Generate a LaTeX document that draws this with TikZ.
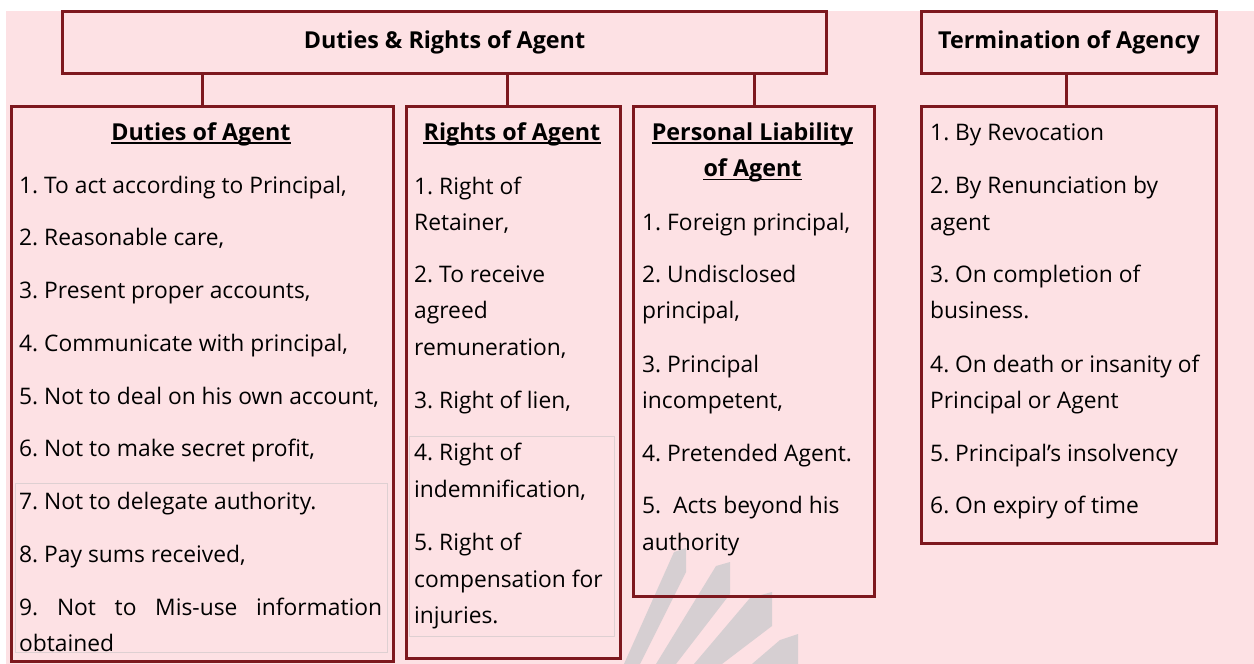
\documentclass[tikz,border=0pt]{standalone}
\usepackage{fontspec}
\setmainfont{Open Sans}
\frenchspacing
\definecolor{boxred}{RGB}{125,24,30}
\definecolor{bgpink}{RGB}{253,225,228}
\definecolor{logogray}{RGB}{214,207,210}
\definecolor{cellgray}{RGB}{222,208,210}

\begin{document}
\begin{tikzpicture}[x=1pt, y=-1pt,
	box/.style={draw=boxred, line width=3pt, inner sep=0pt, anchor=north west},
	link/.style={draw=boxred, line width=3pt},
	item/.style={anchor=base west, inner sep=0pt, font=\fontsize{22.8}{27}\selectfont},
	head/.style={anchor=base, inner sep=0pt, font=\fontsize{23.3}{27}\selectfont\bfseries},
	uline/.style={draw=black, line width=1.6pt}]
	% page and pink panel
	\useasboundingbox (0,0) rectangle (1254,664);
	\fill[white] (0,0) rectangle (1254,664);
	\fill[bgpink] (6,11) rectangle (1254,664);
	% faint logo in the back
	\fill[logogray] (674,552) -- (686,548) -- (686,572) -- (640,664) -- (624,664) -- cycle;
	\fill[logogray] (716,566) -- (730,562) -- (730,594) -- (676,664) -- (656,664) -- cycle;
	\fill[logogray] (750,598) -- (772,592) -- (772,626) -- (722,664) -- (694,664) -- cycle;
	\fill[logogray] (780,640) -- (798,634) -- (798,664) -- (752,664) -- cycle;

	% boxes
	\node[box, minimum width=764pt, minimum height=62pt, font=\fontsize{23.3}{27}\selectfont\bfseries] (top) at (61,10) {Duties \& Rights of Agent};
	\node[box, minimum width=295pt, minimum height=62pt, font=\fontsize{23.3}{27}\selectfont\bfseries] (term) at (920,10) {Termination of Agency};
	\node[box, minimum width=382pt, minimum height=555pt] (duties) at (10,105) {};
	\node[box, minimum width=214pt, minimum height=552pt] (rights) at (405,105) {};
	\node[box, minimum width=241pt, minimum height=490pt] (liab) at (632,105) {};
	\node[box, minimum width=295pt, minimum height=437pt] (termlist) at (920,105) {};

	% connectors
	\draw[link] (duties.north) -- (duties.north |- top.south);
	\draw[link] ([xshift=-6pt]rights.north) -- ([xshift=-6pt]rights.north |- top.south);
	\draw[link] (liab.north) -- (liab.north |- top.south);
	\draw[link] ([xshift=-3pt]termlist.north) -- ([xshift=-3pt]term.south);

	% faint table cells
	\draw[cellgray, line width=0.8pt] (15,483) rectangle (387,652);
	\draw[cellgray, line width=0.8pt] (409,436) rectangle (614,636);

	% headings
	\node[head] (dutieshd) at (201,140) {Duties of Agent};
	\node[head] (rightshd) at (512,140) {Rights of Agent};
	\node[head] (liabhd) at (752.5,140) {Personal Liability};
	\node[head] (liabhdb) at (752.5,176.5) {of Agent};
	\foreach \h in {dutieshd, rightshd, liabhd, liabhdb}
		\draw[uline] ([yshift=-3pt]\h.base west) -- ([yshift=-3pt]\h.base east);

	% duties
	\foreach \yy/\txt [count=\i] in {193/{1. To act according to Principal,}, 245.75/{2. Reasonable care,},
		298.5/{3. Present proper accounts,}, 351.25/{4. Communicate with principal,},
		404/{5. Not to deal on his own account,}, 456.75/{6. Not to make secret profit,},
		509.5/{7. Not to delegate authority.}, 562.25/{8. Pay sums received,},
		615/{\makebox[363pt][s]{9. Not to Mis-use information}}, 651/{obtained}}
		\node[item] (d\i) at (19,\yy) {\txt};

	% rights
	\foreach \yy/\txt [count=\i] in {194/{1. Right of}, 230/{Retainer,}, 282/{2. To receive}, 318/{agreed},
		355/{remuneration,}, 408/{3. Right of lien,}, 460/{4. Right of}, 497/{indemnification,},
		550/{5. Right of}, 587/{compensation for}, 623/{injuries.}}
		\node[item] (r\i) at (414,\yy) {\txt};

	% personal liability
	\foreach \yy/\txt [count=\i] in {230/{1. Foreign principal,}, 282/{2. Undisclosed}, 318/{principal,},
		372/{3. Principal}, 408/{incompetent,}, 461/{4. Pretended Agent.},
		513/{5.~\ Acts beyond his}, 550/{authority}}
		\node[item] (p\i) at (642,\yy) {\txt};

	% termination
	\foreach \yy/\txt [count=\i] in {140/{1. By Revocation}, 193/{2. By Renunciation by}, 230/{agent},
		282/{3. On completion of}, 318/{business.}, 372/{4. On death or insanity of},
		408/{Principal or Agent}, 461/{5. Principal’s insolvency}, 513/{6. On expiry of time}}
		\node[item] (t\i) at (930,\yy) {\txt};
\end{tikzpicture}
\end{document}
